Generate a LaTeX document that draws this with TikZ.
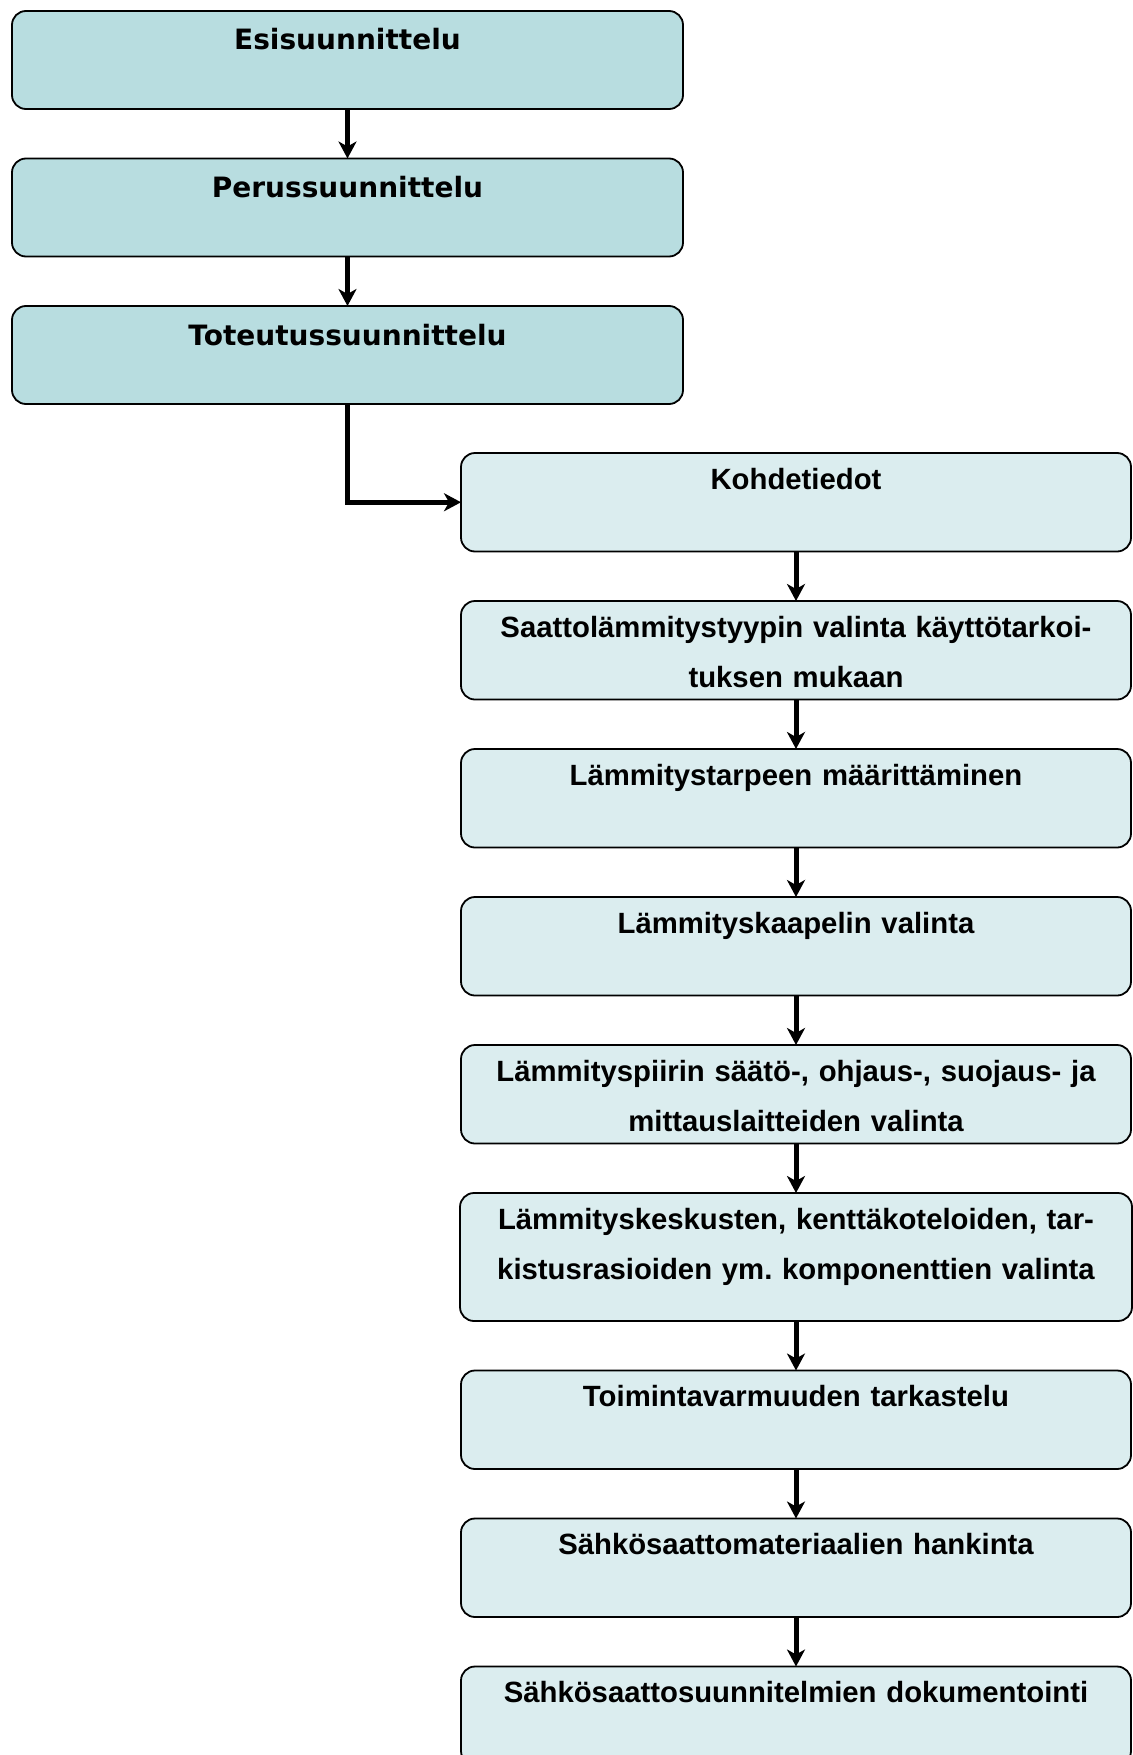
\documentclass[tikz,border=0pt]{standalone}
\usepackage{fontspec}
\setmainfont{Liberation Sans}
\newfontfamily\heavyfont{DejaVu Sans}
\usetikzlibrary{arrows.meta, positioning}
\definecolor{phasecolor}{RGB}{184,221,224}
\definecolor{stepcolor}{RGB}{219,237,239}
\frenchspacing

\begin{document}
\begin{tikzpicture}[
    x=1pt, y=1pt,
    node distance=49.5pt,
    >={Stealth[length=17pt, width=18pt, inset=5pt]},
    phasebox/.style={rectangle, draw=black, line width=1.8pt, fill=phasecolor,
        rounded corners=14pt, inner sep=0pt, outer sep=0pt, text width=671pt, align=center,
        text height=39pt, text depth=59pt,
        font=\heavyfont\bfseries\fontsize{28}{50}\selectfont},
    stepbox/.style={rectangle, draw=black, line width=1.8pt, fill=stepcolor,
        rounded corners=14pt, inner sep=0pt, outer sep=0pt, text width=670pt, align=center,
        text height=36pt, text depth=62.5pt,
        font=\bfseries\fontsize{29.3}{50}\selectfont},
    arrow/.style={->, line width=5pt, black},
]
\useasboundingbox (0,0) rectangle (1132,-1755);

% === DESIGN PHASES (Left) ===
\node[phasebox, anchor=north west] (esi) at (12,-11) {Esisuunnittelu};
\node[phasebox, below=of esi] (perus) {Perussuunnittelu};
\node[phasebox, below=of perus] (toteutus) {Toteutussuunnittelu};

% === DESIGN STEPS (Right) ===
\node[stepbox, anchor=north west] (kohde) at (461,-453) {Kohdetiedot};
\node[stepbox, below=of kohde] (tyyppi) {Saattolämmitystyypin valinta käyttötarkoi-\\tuksen mukaan};
\node[stepbox, below=of tyyppi] (tarve) {Lämmitystarpeen määrittäminen};
\node[stepbox, below=of tarve] (kaapeli) {Lämmityskaapelin valinta};
\node[stepbox, below=of kaapeli] (saato) {Lämmityspiirin säätö-, ohjaus-, suojaus- ja\\mittauslaitteiden valinta};
\node[stepbox, below=of saato, text width=672pt, text depth=92pt] (keskus) {Lämmityskeskusten, kenttäkoteloiden, tar-\\kistusrasioiden ym. komponenttien valinta};
\node[stepbox, below=of keskus] (varmuus) {Toimintavarmuuden tarkastelu};
\node[stepbox, below=of varmuus] (hankinta) {Sähkösaattomateriaalien hankinta};
\node[stepbox, below=of hankinta] (dokum) {Sähkösaattosuunnitelmien dokumentointi};

% === ARROWS ===
\draw[arrow] (esi) -- (perus);
\draw[arrow] (perus) -- (toteutus);
\draw[arrow] (toteutus.south) |- (kohde.west);

\draw[arrow] (kohde) -- (tyyppi);
\draw[arrow] (tyyppi) -- (tarve);
\draw[arrow] (tarve) -- (kaapeli);
\draw[arrow] (kaapeli) -- (saato);
\draw[arrow] (saato) -- (keskus);
\draw[arrow] (keskus) -- (varmuus);
\draw[arrow] (varmuus) -- (hankinta);
\draw[arrow] (hankinta) -- (dokum);

\end{tikzpicture}
\end{document}
